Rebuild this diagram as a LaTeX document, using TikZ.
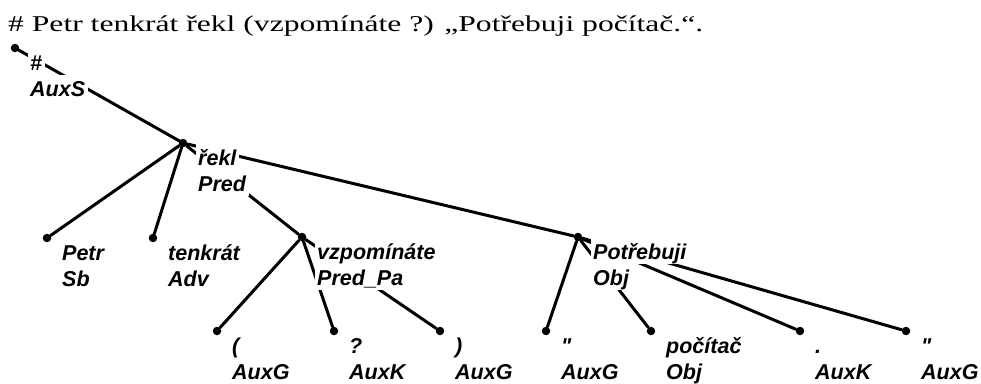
\documentclass[tikz,border=0pt]{standalone}
\usepackage{fontspec}
\usepackage{graphicx}
\newfontfamily\titlefont{Liberation Serif}
\newfontfamily\labfont{Liberation Sans}
\begin{document}
\begin{tikzpicture}[x=1pt,y=-1pt,
  dot/.style={circle,fill=black,inner sep=0pt,minimum size=8.5pt},
  edge/.style={line width=3pt,black,line cap=round},
  lab/.style={anchor=base west,inner xsep=2.5pt,inner ysep=1pt,fill=white,text height=20pt,text depth=4pt,
    font=\labfont\bfseries\itshape\fontsize{21.5}{26}\selectfont}]
\useasboundingbox (0,0) rectangle (981,383);
\fill[white] (0,0) rectangle (981,383);
\node[anchor=base west,inner sep=0pt,font=\titlefont\fontsize{22.6}{27}\selectfont] (title) at (8,31)
  {\resizebox{695pt}{\height}{\# Petr tenkrát řekl (vzpomínáte ?) „Potřebuji počítač.“.}};
% dots
\foreach \n/\x/\y in {root/15/48, rekl/183/143, petr/47/238, tenkrat/153/238, vzpom/302/237,
  potreb/578/237, lpar/217/331, quest/334/331, rpar/440/331, lquo/546/331, pocitac/651/331,
  period/800/331, rquo/906/331}
  \node[dot] (\n) at (\x,\y) {};
% edges
\foreach \p/\c in {root/rekl, rekl/petr, rekl/tenkrat, rekl/vzpom, rekl/potreb,
  vzpom/lpar, vzpom/quest, vzpom/rpar, potreb/lquo, potreb/pocitac, potreb/period, potreb/rquo}
  \draw[edge] (\c) -- (\p);
% labels
\foreach \n/\w/\f in {root/\#/AuxS, rekl/řekl/Pred, petr/Petr/Sb, tenkrat/tenkrát/Adv,
  vzpom/vzpomínáte/Pred\_Pa, potreb/Potřebuji/Obj, lpar/(/AuxG, quest/?/AuxK, rpar/)/AuxG,
  lquo/"/AuxG, pocitac/počítač/Obj, period/./AuxK, rquo/"/AuxG}
{
  \node[lab] (\n-w) at ([shift={(12.5pt,-22pt)}]\n.center) {\w};
  \node[lab] (\n-f) at ([shift={(12.5pt,-48pt)}]\n.center) {\f};
}
\end{tikzpicture}
\end{document}
